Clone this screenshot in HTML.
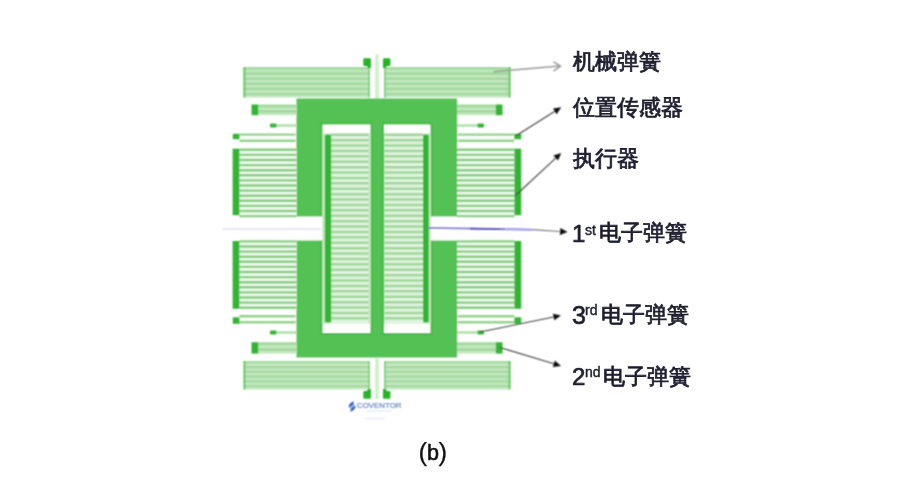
<!DOCTYPE html>
<html><head><meta charset="utf-8"><style>
html,body{margin:0;padding:0;background:#fff;}
body{width:898px;height:485px;overflow:hidden;position:relative;font-family:"Liberation Sans",sans-serif;}
svg{position:absolute;left:0;top:0;}
#tx{position:absolute;left:0;top:0;width:898px;height:485px;will-change:transform;}
#w{position:absolute;left:0;top:0;width:898px;height:485px;filter:url(#bl);}
.c,.d,.s{position:absolute;color:#1e1e30;white-space:nowrap;line-height:1;}
.c{font-size:22px;font-weight:normal;-webkit-text-stroke:0.8px #1e1e30;}
.d{font-size:24px;-webkit-text-stroke:0.7px #1e1e30;}
.p{position:absolute;line-height:1;font-size:26px;color:#111;-webkit-text-stroke:0.25px #111;}
.s{font-size:14px;-webkit-text-stroke:0.45px #1e1e30;}
</style></head><body>
<svg width="0" height="0" style="position:absolute"><filter id="bl" x="-1%" y="-1%" width="102%" height="102%"><feConvolveMatrix order="3" kernelMatrix="1 2 1 2 4 2 1 2 1" divisor="16" edgeMode="duplicate" preserveAlpha="false"/></filter></svg>
<div id="w">
<svg width="898" height="485" viewBox="0 0 898 485">
<rect x="243.2" y="67" width="126.3" height="30.5" fill="#c4e8c0" />
<line x1="243.2" y1="68.525" x2="369.5" y2="68.525" stroke="#a3d99f" stroke-width="2.5416666666666665" />
<line x1="243.2" y1="73.60833333333333" x2="369.5" y2="73.60833333333333" stroke="#a3d99f" stroke-width="2.5416666666666665" />
<line x1="243.2" y1="78.69166666666668" x2="369.5" y2="78.69166666666668" stroke="#a3d99f" stroke-width="2.5416666666666665" />
<line x1="243.2" y1="83.775" x2="369.5" y2="83.775" stroke="#a3d99f" stroke-width="2.5416666666666665" />
<line x1="243.2" y1="88.85833333333333" x2="369.5" y2="88.85833333333333" stroke="#a3d99f" stroke-width="2.5416666666666665" />
<line x1="243.2" y1="93.94166666666666" x2="369.5" y2="93.94166666666666" stroke="#a3d99f" stroke-width="2.5416666666666665" />
<rect x="384.5" y="67" width="126.0" height="30.5" fill="#c4e8c0" />
<line x1="384.5" y1="68.525" x2="510.5" y2="68.525" stroke="#a3d99f" stroke-width="2.5416666666666665" />
<line x1="384.5" y1="73.60833333333333" x2="510.5" y2="73.60833333333333" stroke="#a3d99f" stroke-width="2.5416666666666665" />
<line x1="384.5" y1="78.69166666666668" x2="510.5" y2="78.69166666666668" stroke="#a3d99f" stroke-width="2.5416666666666665" />
<line x1="384.5" y1="83.775" x2="510.5" y2="83.775" stroke="#a3d99f" stroke-width="2.5416666666666665" />
<line x1="384.5" y1="88.85833333333333" x2="510.5" y2="88.85833333333333" stroke="#a3d99f" stroke-width="2.5416666666666665" />
<line x1="384.5" y1="93.94166666666666" x2="510.5" y2="93.94166666666666" stroke="#a3d99f" stroke-width="2.5416666666666665" />
<rect x="243.5" y="361" width="126.0" height="28.5" fill="#c4e8c0" />
<line x1="243.5" y1="362.425" x2="369.5" y2="362.425" stroke="#a3d99f" stroke-width="2.375" />
<line x1="243.5" y1="367.175" x2="369.5" y2="367.175" stroke="#a3d99f" stroke-width="2.375" />
<line x1="243.5" y1="371.925" x2="369.5" y2="371.925" stroke="#a3d99f" stroke-width="2.375" />
<line x1="243.5" y1="376.675" x2="369.5" y2="376.675" stroke="#a3d99f" stroke-width="2.375" />
<line x1="243.5" y1="381.425" x2="369.5" y2="381.425" stroke="#a3d99f" stroke-width="2.375" />
<line x1="243.5" y1="386.175" x2="369.5" y2="386.175" stroke="#a3d99f" stroke-width="2.375" />
<rect x="384.5" y="361" width="126.0" height="28.5" fill="#c4e8c0" />
<line x1="384.5" y1="362.425" x2="510.5" y2="362.425" stroke="#a3d99f" stroke-width="2.375" />
<line x1="384.5" y1="367.175" x2="510.5" y2="367.175" stroke="#a3d99f" stroke-width="2.375" />
<line x1="384.5" y1="371.925" x2="510.5" y2="371.925" stroke="#a3d99f" stroke-width="2.375" />
<line x1="384.5" y1="376.675" x2="510.5" y2="376.675" stroke="#a3d99f" stroke-width="2.375" />
<line x1="384.5" y1="381.425" x2="510.5" y2="381.425" stroke="#a3d99f" stroke-width="2.375" />
<line x1="384.5" y1="386.175" x2="510.5" y2="386.175" stroke="#a3d99f" stroke-width="2.375" />
<line x1="244.5" y1="67" x2="244.5" y2="97.5" stroke="#6cc968" stroke-width="2" />
<line x1="369" y1="65" x2="369" y2="97.5" stroke="#6cc968" stroke-width="1.3" />
<line x1="385" y1="65" x2="385" y2="97.5" stroke="#6cc968" stroke-width="1.3" />
<line x1="509.5" y1="67" x2="509.5" y2="97.5" stroke="#6cc968" stroke-width="2" />
<line x1="244.5" y1="361" x2="244.5" y2="389.5" stroke="#6cc968" stroke-width="2" />
<line x1="369" y1="361" x2="369" y2="392" stroke="#6cc968" stroke-width="1.3" />
<line x1="385" y1="361" x2="385" y2="392" stroke="#6cc968" stroke-width="1.3" />
<line x1="509.5" y1="361" x2="509.5" y2="389.5" stroke="#6cc968" stroke-width="2" />
<line x1="377" y1="54.5" x2="377" y2="99" stroke="#cdf0c9" stroke-width="3.6" />
<line x1="377" y1="358" x2="377" y2="399" stroke="#cdf0c9" stroke-width="3.6" />
<path d="M363.3 59.5 Q363.3 58.3 364.5 58.3 L369.7 58.3 Q370.9 58.3 370.9 59.5 L370.9 68 L367.5 68 L367.3 66 L364.5 66 Q363.3 66 363.3 64.8 Z" fill="#25b425"/>
<path d="M390.4 59.5 Q390.4 58.3 389.2 58.3 L384.2 58.3 Q383 58.3 383 59.5 L383 68 L386.3 68 L386.5 66 L389.2 66 Q390.4 66 390.4 64.8 Z" fill="#25b425"/>
<path d="M363.3 397.5 Q363.3 398.7 364.5 398.7 L369.7 398.7 Q370.9 398.7 370.9 397.5 L370.9 389 L367.5 389 L367.3 391 L364.5 391 Q363.3 391 363.3 392.2 Z" fill="#25b425"/>
<path d="M390.4 397.5 Q390.4 398.7 389.2 398.7 L384.2 398.7 Q383 398.7 383 397.5 L383 389 L386.3 389 L386.5 391 L389.2 391 Q390.4 391 390.4 392.2 Z" fill="#25b425"/>
<rect x="296.5" y="98.5" width="160.5" height="259.0" fill="#52c152" />
<rect x="320.5" y="122.5" width="52.0" height="212.5" fill="#46ba46" />
<rect x="382" y="122.5" width="50.5" height="212.5" fill="#46ba46" />
<rect x="280" y="216.5" width="42.6" height="24.0" fill="#ffffff" />
<rect x="430.4" y="216.5" width="39.6" height="24.0" fill="#ffffff" />
<rect x="322.5" y="124.5" width="48.0" height="208.5" fill="#ffffff" />
<rect x="322.5" y="133.5" width="48.0" height="190.0" fill="#c6e8c3" />
<rect x="331.2" y="133.5" width="37.3" height="190.0" fill="#e2f3e0" />
<line x1="331.2" y1="134.75" x2="368.5" y2="134.75" stroke="#9dd799" stroke-width="2.5" />
<line x1="331.2" y1="140.15" x2="368.5" y2="140.15" stroke="#9dd799" stroke-width="2.5" />
<line x1="331.2" y1="145.55" x2="368.5" y2="145.55" stroke="#9dd799" stroke-width="2.5" />
<line x1="331.2" y1="150.95000000000002" x2="368.5" y2="150.95000000000002" stroke="#9dd799" stroke-width="2.5" />
<line x1="331.2" y1="156.35000000000002" x2="368.5" y2="156.35000000000002" stroke="#9dd799" stroke-width="2.5" />
<line x1="331.2" y1="161.75000000000003" x2="368.5" y2="161.75000000000003" stroke="#9dd799" stroke-width="2.5" />
<line x1="331.2" y1="167.15000000000003" x2="368.5" y2="167.15000000000003" stroke="#9dd799" stroke-width="2.5" />
<line x1="331.2" y1="172.55000000000004" x2="368.5" y2="172.55000000000004" stroke="#9dd799" stroke-width="2.5" />
<line x1="331.2" y1="177.95000000000005" x2="368.5" y2="177.95000000000005" stroke="#9dd799" stroke-width="2.5" />
<line x1="331.2" y1="183.35000000000005" x2="368.5" y2="183.35000000000005" stroke="#9dd799" stroke-width="2.5" />
<line x1="331.2" y1="188.75000000000006" x2="368.5" y2="188.75000000000006" stroke="#9dd799" stroke-width="2.5" />
<line x1="331.2" y1="194.15000000000006" x2="368.5" y2="194.15000000000006" stroke="#9dd799" stroke-width="2.5" />
<line x1="331.2" y1="199.55000000000007" x2="368.5" y2="199.55000000000007" stroke="#9dd799" stroke-width="2.5" />
<line x1="331.2" y1="204.95000000000007" x2="368.5" y2="204.95000000000007" stroke="#9dd799" stroke-width="2.5" />
<line x1="331.2" y1="210.35000000000008" x2="368.5" y2="210.35000000000008" stroke="#9dd799" stroke-width="2.5" />
<line x1="331.2" y1="215.75000000000009" x2="368.5" y2="215.75000000000009" stroke="#9dd799" stroke-width="2.5" />
<line x1="331.2" y1="221.1500000000001" x2="368.5" y2="221.1500000000001" stroke="#9dd799" stroke-width="2.5" />
<line x1="331.2" y1="226.5500000000001" x2="368.5" y2="226.5500000000001" stroke="#9dd799" stroke-width="2.5" />
<line x1="331.2" y1="231.9500000000001" x2="368.5" y2="231.9500000000001" stroke="#9dd799" stroke-width="2.5" />
<line x1="331.2" y1="237.3500000000001" x2="368.5" y2="237.3500000000001" stroke="#9dd799" stroke-width="2.5" />
<line x1="331.2" y1="242.7500000000001" x2="368.5" y2="242.7500000000001" stroke="#9dd799" stroke-width="2.5" />
<line x1="331.2" y1="248.15000000000012" x2="368.5" y2="248.15000000000012" stroke="#9dd799" stroke-width="2.5" />
<line x1="331.2" y1="253.55000000000013" x2="368.5" y2="253.55000000000013" stroke="#9dd799" stroke-width="2.5" />
<line x1="331.2" y1="258.9500000000001" x2="368.5" y2="258.9500000000001" stroke="#9dd799" stroke-width="2.5" />
<line x1="331.2" y1="264.3500000000001" x2="368.5" y2="264.3500000000001" stroke="#9dd799" stroke-width="2.5" />
<line x1="331.2" y1="269.75000000000006" x2="368.5" y2="269.75000000000006" stroke="#9dd799" stroke-width="2.5" />
<line x1="331.2" y1="275.15000000000003" x2="368.5" y2="275.15000000000003" stroke="#9dd799" stroke-width="2.5" />
<line x1="331.2" y1="280.55" x2="368.5" y2="280.55" stroke="#9dd799" stroke-width="2.5" />
<line x1="331.2" y1="285.95" x2="368.5" y2="285.95" stroke="#9dd799" stroke-width="2.5" />
<line x1="331.2" y1="291.34999999999997" x2="368.5" y2="291.34999999999997" stroke="#9dd799" stroke-width="2.5" />
<line x1="331.2" y1="296.74999999999994" x2="368.5" y2="296.74999999999994" stroke="#9dd799" stroke-width="2.5" />
<line x1="331.2" y1="302.1499999999999" x2="368.5" y2="302.1499999999999" stroke="#9dd799" stroke-width="2.5" />
<line x1="331.2" y1="307.5499999999999" x2="368.5" y2="307.5499999999999" stroke="#9dd799" stroke-width="2.5" />
<line x1="331.2" y1="312.9499999999999" x2="368.5" y2="312.9499999999999" stroke="#9dd799" stroke-width="2.5" />
<line x1="331.2" y1="318.34999999999985" x2="368.5" y2="318.34999999999985" stroke="#9dd799" stroke-width="2.5" />
<rect x="324.8" y="134.5" width="6.4" height="188.0" fill="#33b533" rx="1.5"/>
<rect x="384" y="124.5" width="46.5" height="208.5" fill="#ffffff" />
<rect x="384" y="133.5" width="46.5" height="190.0" fill="#c6e8c3" />
<rect x="384.5" y="133.5" width="38.5" height="190.0" fill="#e2f3e0" />
<line x1="384.5" y1="134.75" x2="423" y2="134.75" stroke="#9dd799" stroke-width="2.5" />
<line x1="384.5" y1="140.15" x2="423" y2="140.15" stroke="#9dd799" stroke-width="2.5" />
<line x1="384.5" y1="145.55" x2="423" y2="145.55" stroke="#9dd799" stroke-width="2.5" />
<line x1="384.5" y1="150.95000000000002" x2="423" y2="150.95000000000002" stroke="#9dd799" stroke-width="2.5" />
<line x1="384.5" y1="156.35000000000002" x2="423" y2="156.35000000000002" stroke="#9dd799" stroke-width="2.5" />
<line x1="384.5" y1="161.75000000000003" x2="423" y2="161.75000000000003" stroke="#9dd799" stroke-width="2.5" />
<line x1="384.5" y1="167.15000000000003" x2="423" y2="167.15000000000003" stroke="#9dd799" stroke-width="2.5" />
<line x1="384.5" y1="172.55000000000004" x2="423" y2="172.55000000000004" stroke="#9dd799" stroke-width="2.5" />
<line x1="384.5" y1="177.95000000000005" x2="423" y2="177.95000000000005" stroke="#9dd799" stroke-width="2.5" />
<line x1="384.5" y1="183.35000000000005" x2="423" y2="183.35000000000005" stroke="#9dd799" stroke-width="2.5" />
<line x1="384.5" y1="188.75000000000006" x2="423" y2="188.75000000000006" stroke="#9dd799" stroke-width="2.5" />
<line x1="384.5" y1="194.15000000000006" x2="423" y2="194.15000000000006" stroke="#9dd799" stroke-width="2.5" />
<line x1="384.5" y1="199.55000000000007" x2="423" y2="199.55000000000007" stroke="#9dd799" stroke-width="2.5" />
<line x1="384.5" y1="204.95000000000007" x2="423" y2="204.95000000000007" stroke="#9dd799" stroke-width="2.5" />
<line x1="384.5" y1="210.35000000000008" x2="423" y2="210.35000000000008" stroke="#9dd799" stroke-width="2.5" />
<line x1="384.5" y1="215.75000000000009" x2="423" y2="215.75000000000009" stroke="#9dd799" stroke-width="2.5" />
<line x1="384.5" y1="221.1500000000001" x2="423" y2="221.1500000000001" stroke="#9dd799" stroke-width="2.5" />
<line x1="384.5" y1="226.5500000000001" x2="423" y2="226.5500000000001" stroke="#9dd799" stroke-width="2.5" />
<line x1="384.5" y1="231.9500000000001" x2="423" y2="231.9500000000001" stroke="#9dd799" stroke-width="2.5" />
<line x1="384.5" y1="237.3500000000001" x2="423" y2="237.3500000000001" stroke="#9dd799" stroke-width="2.5" />
<line x1="384.5" y1="242.7500000000001" x2="423" y2="242.7500000000001" stroke="#9dd799" stroke-width="2.5" />
<line x1="384.5" y1="248.15000000000012" x2="423" y2="248.15000000000012" stroke="#9dd799" stroke-width="2.5" />
<line x1="384.5" y1="253.55000000000013" x2="423" y2="253.55000000000013" stroke="#9dd799" stroke-width="2.5" />
<line x1="384.5" y1="258.9500000000001" x2="423" y2="258.9500000000001" stroke="#9dd799" stroke-width="2.5" />
<line x1="384.5" y1="264.3500000000001" x2="423" y2="264.3500000000001" stroke="#9dd799" stroke-width="2.5" />
<line x1="384.5" y1="269.75000000000006" x2="423" y2="269.75000000000006" stroke="#9dd799" stroke-width="2.5" />
<line x1="384.5" y1="275.15000000000003" x2="423" y2="275.15000000000003" stroke="#9dd799" stroke-width="2.5" />
<line x1="384.5" y1="280.55" x2="423" y2="280.55" stroke="#9dd799" stroke-width="2.5" />
<line x1="384.5" y1="285.95" x2="423" y2="285.95" stroke="#9dd799" stroke-width="2.5" />
<line x1="384.5" y1="291.34999999999997" x2="423" y2="291.34999999999997" stroke="#9dd799" stroke-width="2.5" />
<line x1="384.5" y1="296.74999999999994" x2="423" y2="296.74999999999994" stroke="#9dd799" stroke-width="2.5" />
<line x1="384.5" y1="302.1499999999999" x2="423" y2="302.1499999999999" stroke="#9dd799" stroke-width="2.5" />
<line x1="384.5" y1="307.5499999999999" x2="423" y2="307.5499999999999" stroke="#9dd799" stroke-width="2.5" />
<line x1="384.5" y1="312.9499999999999" x2="423" y2="312.9499999999999" stroke="#9dd799" stroke-width="2.5" />
<line x1="384.5" y1="318.34999999999985" x2="423" y2="318.34999999999985" stroke="#9dd799" stroke-width="2.5" />
<rect x="423" y="134.5" width="5.8" height="188.0" fill="#33b533" rx="1.5"/>
<rect x="239.4" y="148.7" width="57.1" height="67.3" fill="#f0f9ef" />
<line x1="239.4" y1="149.8" x2="296.5" y2="149.8" stroke="#84cd7f" stroke-width="2.4" />
<line x1="239.4" y1="154.9" x2="296.5" y2="154.9" stroke="#84cd7f" stroke-width="2.4" />
<line x1="239.4" y1="160.0" x2="296.5" y2="160.0" stroke="#84cd7f" stroke-width="2.4" />
<line x1="239.4" y1="165.10000000000002" x2="296.5" y2="165.10000000000002" stroke="#84cd7f" stroke-width="2.4" />
<line x1="239.4" y1="170.20000000000002" x2="296.5" y2="170.20000000000002" stroke="#84cd7f" stroke-width="2.4" />
<line x1="239.4" y1="175.3" x2="296.5" y2="175.3" stroke="#84cd7f" stroke-width="2.4" />
<line x1="239.4" y1="180.4" x2="296.5" y2="180.4" stroke="#84cd7f" stroke-width="2.4" />
<line x1="239.4" y1="185.5" x2="296.5" y2="185.5" stroke="#84cd7f" stroke-width="2.4" />
<line x1="239.4" y1="190.60000000000002" x2="296.5" y2="190.60000000000002" stroke="#84cd7f" stroke-width="2.4" />
<line x1="239.4" y1="195.70000000000002" x2="296.5" y2="195.70000000000002" stroke="#84cd7f" stroke-width="2.4" />
<line x1="239.4" y1="200.8" x2="296.5" y2="200.8" stroke="#84cd7f" stroke-width="2.4" />
<line x1="239.4" y1="205.9" x2="296.5" y2="205.9" stroke="#84cd7f" stroke-width="2.4" />
<line x1="239.4" y1="211.0" x2="296.5" y2="211.0" stroke="#84cd7f" stroke-width="2.4" />
<line x1="239.4" y1="216.10000000000002" x2="296.5" y2="216.10000000000002" stroke="#84cd7f" stroke-width="2.4" />
<rect x="232.6" y="148.7" width="6.8" height="66.5" fill="#33b533" />
<rect x="239.4" y="241.0" width="57.1" height="68.6" fill="#f0f9ef" />
<line x1="239.4" y1="241.4" x2="296.5" y2="241.4" stroke="#84cd7f" stroke-width="2.4" />
<line x1="239.4" y1="246.5" x2="296.5" y2="246.5" stroke="#84cd7f" stroke-width="2.4" />
<line x1="239.4" y1="251.6" x2="296.5" y2="251.6" stroke="#84cd7f" stroke-width="2.4" />
<line x1="239.4" y1="256.70000000000005" x2="296.5" y2="256.70000000000005" stroke="#84cd7f" stroke-width="2.4" />
<line x1="239.4" y1="261.8" x2="296.5" y2="261.8" stroke="#84cd7f" stroke-width="2.4" />
<line x1="239.4" y1="266.90000000000003" x2="296.5" y2="266.90000000000003" stroke="#84cd7f" stroke-width="2.4" />
<line x1="239.4" y1="272.00000000000006" x2="296.5" y2="272.00000000000006" stroke="#84cd7f" stroke-width="2.4" />
<line x1="239.4" y1="277.1" x2="296.5" y2="277.1" stroke="#84cd7f" stroke-width="2.4" />
<line x1="239.4" y1="282.20000000000005" x2="296.5" y2="282.20000000000005" stroke="#84cd7f" stroke-width="2.4" />
<line x1="239.4" y1="287.3" x2="296.5" y2="287.3" stroke="#84cd7f" stroke-width="2.4" />
<line x1="239.4" y1="292.40000000000003" x2="296.5" y2="292.40000000000003" stroke="#84cd7f" stroke-width="2.4" />
<line x1="239.4" y1="297.5" x2="296.5" y2="297.5" stroke="#84cd7f" stroke-width="2.4" />
<line x1="239.4" y1="302.6" x2="296.5" y2="302.6" stroke="#84cd7f" stroke-width="2.4" />
<line x1="239.4" y1="307.70000000000005" x2="296.5" y2="307.70000000000005" stroke="#84cd7f" stroke-width="2.4" />
<rect x="232.6" y="241.0" width="6.8" height="67.8" fill="#33b533" />
<rect x="457" y="148.7" width="57.4" height="67.3" fill="#f0f9ef" />
<line x1="457" y1="149.8" x2="514.4" y2="149.8" stroke="#84cd7f" stroke-width="2.4" />
<line x1="457" y1="154.9" x2="514.4" y2="154.9" stroke="#84cd7f" stroke-width="2.4" />
<line x1="457" y1="160.0" x2="514.4" y2="160.0" stroke="#84cd7f" stroke-width="2.4" />
<line x1="457" y1="165.10000000000002" x2="514.4" y2="165.10000000000002" stroke="#84cd7f" stroke-width="2.4" />
<line x1="457" y1="170.20000000000002" x2="514.4" y2="170.20000000000002" stroke="#84cd7f" stroke-width="2.4" />
<line x1="457" y1="175.3" x2="514.4" y2="175.3" stroke="#84cd7f" stroke-width="2.4" />
<line x1="457" y1="180.4" x2="514.4" y2="180.4" stroke="#84cd7f" stroke-width="2.4" />
<line x1="457" y1="185.5" x2="514.4" y2="185.5" stroke="#84cd7f" stroke-width="2.4" />
<line x1="457" y1="190.60000000000002" x2="514.4" y2="190.60000000000002" stroke="#84cd7f" stroke-width="2.4" />
<line x1="457" y1="195.70000000000002" x2="514.4" y2="195.70000000000002" stroke="#84cd7f" stroke-width="2.4" />
<line x1="457" y1="200.8" x2="514.4" y2="200.8" stroke="#84cd7f" stroke-width="2.4" />
<line x1="457" y1="205.9" x2="514.4" y2="205.9" stroke="#84cd7f" stroke-width="2.4" />
<line x1="457" y1="211.0" x2="514.4" y2="211.0" stroke="#84cd7f" stroke-width="2.4" />
<line x1="457" y1="216.10000000000002" x2="514.4" y2="216.10000000000002" stroke="#84cd7f" stroke-width="2.4" />
<rect x="514.4" y="148.7" width="6.8" height="66.5" fill="#33b533" />
<rect x="457" y="241.0" width="57.4" height="68.6" fill="#f0f9ef" />
<line x1="457" y1="241.4" x2="514.4" y2="241.4" stroke="#84cd7f" stroke-width="2.4" />
<line x1="457" y1="246.5" x2="514.4" y2="246.5" stroke="#84cd7f" stroke-width="2.4" />
<line x1="457" y1="251.6" x2="514.4" y2="251.6" stroke="#84cd7f" stroke-width="2.4" />
<line x1="457" y1="256.70000000000005" x2="514.4" y2="256.70000000000005" stroke="#84cd7f" stroke-width="2.4" />
<line x1="457" y1="261.8" x2="514.4" y2="261.8" stroke="#84cd7f" stroke-width="2.4" />
<line x1="457" y1="266.90000000000003" x2="514.4" y2="266.90000000000003" stroke="#84cd7f" stroke-width="2.4" />
<line x1="457" y1="272.00000000000006" x2="514.4" y2="272.00000000000006" stroke="#84cd7f" stroke-width="2.4" />
<line x1="457" y1="277.1" x2="514.4" y2="277.1" stroke="#84cd7f" stroke-width="2.4" />
<line x1="457" y1="282.20000000000005" x2="514.4" y2="282.20000000000005" stroke="#84cd7f" stroke-width="2.4" />
<line x1="457" y1="287.3" x2="514.4" y2="287.3" stroke="#84cd7f" stroke-width="2.4" />
<line x1="457" y1="292.40000000000003" x2="514.4" y2="292.40000000000003" stroke="#84cd7f" stroke-width="2.4" />
<line x1="457" y1="297.5" x2="514.4" y2="297.5" stroke="#84cd7f" stroke-width="2.4" />
<line x1="457" y1="302.6" x2="514.4" y2="302.6" stroke="#84cd7f" stroke-width="2.4" />
<line x1="457" y1="307.70000000000005" x2="514.4" y2="307.70000000000005" stroke="#84cd7f" stroke-width="2.4" />
<rect x="514.4" y="241.0" width="6.8" height="67.8" fill="#33b533" />
<line x1="239.4" y1="134.6" x2="295.5" y2="134.6" stroke="#93d38e" stroke-width="2.4" />
<line x1="239.4" y1="140.7" x2="295.5" y2="140.7" stroke="#93d38e" stroke-width="2.4" />
<rect x="232.8" y="133.8" width="6.6" height="5.4" fill="#33b533" />
<line x1="457.5" y1="134.6" x2="514.4" y2="134.6" stroke="#93d38e" stroke-width="2.4" />
<line x1="457.5" y1="140.7" x2="514.4" y2="140.7" stroke="#93d38e" stroke-width="2.4" />
<rect x="514.4" y="133.8" width="6.8" height="5.4" fill="#33b533" />
<line x1="239.4" y1="316.3" x2="295.5" y2="316.3" stroke="#93d38e" stroke-width="2.4" />
<line x1="239.4" y1="322.3" x2="295.5" y2="322.3" stroke="#93d38e" stroke-width="2.4" />
<rect x="232.8" y="317.3" width="6.6" height="6.5" fill="#33b533" />
<line x1="457.5" y1="316.3" x2="514.4" y2="316.3" stroke="#93d38e" stroke-width="2.4" />
<line x1="457.5" y1="322.3" x2="514.4" y2="322.3" stroke="#93d38e" stroke-width="2.4" />
<rect x="514.4" y="317.3" width="6.8" height="6.5" fill="#33b533" />
<rect x="276" y="124.19999999999999" width="20.5" height="2.6" fill="#b3e1af" />
<rect x="270" y="123.6" width="6.5" height="3.8" fill="#33b533" rx="1"/>
<rect x="457" y="124.19999999999999" width="21" height="2.6" fill="#b3e1af" />
<rect x="477.5" y="123.6" width="6.5" height="3.8" fill="#33b533" rx="1"/>
<rect x="276" y="331.20000000000005" width="20.5" height="2.6" fill="#b3e1af" />
<rect x="270" y="330.6" width="6.5" height="3.8" fill="#33b533" rx="1"/>
<rect x="457" y="331.20000000000005" width="21" height="2.6" fill="#b3e1af" />
<rect x="477.5" y="330.6" width="6.5" height="3.8" fill="#33b533" rx="1"/>
<rect x="258" y="104.5" width="38.5" height="10.7" fill="#c4e8c0" />
<line x1="258" y1="106.105" x2="296.5" y2="106.105" stroke="#a3d99f" stroke-width="2.6750000000000007" />
<line x1="258" y1="111.455" x2="296.5" y2="111.455" stroke="#a3d99f" stroke-width="2.6750000000000007" />
<rect x="251.5" y="104.5" width="6.7" height="10.7" fill="#33b533" />
<rect x="457" y="104.5" width="39" height="10.7" fill="#c4e8c0" />
<line x1="457" y1="106.105" x2="496" y2="106.105" stroke="#a3d99f" stroke-width="2.6750000000000007" />
<line x1="457" y1="111.455" x2="496" y2="111.455" stroke="#a3d99f" stroke-width="2.6750000000000007" />
<rect x="495.8" y="104.5" width="6.7" height="10.7" fill="#33b533" />
<rect x="258" y="342.2" width="38.5" height="11.4" fill="#c4e8c0" />
<line x1="258" y1="343.90999999999997" x2="296.5" y2="343.90999999999997" stroke="#a3d99f" stroke-width="2.8500000000000085" />
<line x1="258" y1="349.60999999999996" x2="296.5" y2="349.60999999999996" stroke="#a3d99f" stroke-width="2.8500000000000085" />
<rect x="251.5" y="342.2" width="6.7" height="11.4" fill="#33b533" />
<rect x="457" y="342.2" width="39" height="11.4" fill="#c4e8c0" />
<line x1="457" y1="343.90999999999997" x2="496" y2="343.90999999999997" stroke="#a3d99f" stroke-width="2.8500000000000085" />
<line x1="457" y1="349.60999999999996" x2="496" y2="349.60999999999996" stroke="#a3d99f" stroke-width="2.8500000000000085" />
<rect x="495.8" y="342.2" width="6.7" height="11.4" fill="#33b533" />
<line x1="222" y1="228.8" x2="321" y2="228.8" stroke="#e4e4f7" stroke-width="1.8" />
<path d="M427.5 227.8 L532 229.6" stroke="#7a78d0" stroke-width="1.8" fill="none"/>
<path d="M470 228.6 L500 229.2" stroke="#5a58b8" stroke-width="1.6" fill="none"/>
<path d="M505 229.2 L532 229.8" stroke="#a8a8ec" stroke-width="1.8" fill="none"/>
<path d="M493.4 71.7 L560 66.1" stroke="#9a9a9a" stroke-width="1.5" fill="none"/>
<path d="M553.5 61.8 L560.5 66.1 L553.5 71.1" stroke="#9a9a9a" stroke-width="1.5" fill="none"/>
<path d="M516.5 135.5 L554.86 111.30" stroke="#404040" stroke-width="1.1" fill="none"/>
<path d="M561.2 107.3 L556.67 114.18 L553.04 108.43 Z" fill="#111"/>
<path d="M515.5 195.5 L555.71 158.11" stroke="#404040" stroke-width="1.1" fill="none"/>
<path d="M561.2 153 L558.02 160.60 L553.39 155.62 Z" fill="#111"/>
<path d="M532 229.6 L560.12 231.50" stroke="#777" stroke-width="1.1" fill="none"/>
<path d="M567.6 232 L559.89 234.89 L560.35 228.10 Z" fill="#111"/>
<path d="M480 332 L553.65 317.00" stroke="#404040" stroke-width="1.1" fill="none"/>
<path d="M561 315.5 L554.33 320.33 L552.97 313.67 Z" fill="#111"/>
<path d="M500 347.5 L553.82 363.82" stroke="#404040" stroke-width="1.1" fill="none"/>
<path d="M561 366 L552.84 367.08 L554.81 360.57 Z" fill="#111"/>
<path d="M353.5 401.2 C350.5 402.5 348.3 404.8 348.8 407 C349.2 408.2 350.5 408.3 350.8 409 C350.9 410 350.2 411 350.4 411.9 C353.3 410.8 355.8 408.6 355.5 406.3 C355.3 405.2 354 404.9 353.8 404.2 C353.6 403.3 353.9 402.2 353.5 401.2 Z" fill="#3b6cc4"/>
<path d="M349.5 408.2 L354.8 404.8" stroke="#ffffff" stroke-width="0.9"/>
<text x="357" y="408" font-family="&quot;Liberation Sans&quot;, sans-serif" font-size="7.8" fill="#5a7cb6" stroke="#5a7cb6" stroke-width="0.15" textLength="44.5" lengthAdjust="spacingAndGlyphs">COVENTOR</text>
<rect x="366.5" y="410.3" width="25.5" height="1.3" fill="#e0e8f4"/>
<rect x="365" y="417.8" width="19.5" height="1.6" fill="#ebe9f9"/>
</svg>
</div>
<div id="tx">
<div class="c" style="left:573.3px;top:50.5px">机械弹簧</div>
<div class="c" style="left:573.3px;top:97px">位置传感器</div>
<div class="c" style="left:573.3px;top:147.5px">执行器</div>
<div class="d" style="left:572px;top:221.5px">1</div><div class="s" style="left:585px;top:222.5px">st</div><div class="c" style="left:598.8px;top:221.5px">电子弹簧</div>
<div class="d" style="left:572px;top:302.5px;font-size:25px">3</div><div class="s" style="left:585px;top:303px">rd</div><div class="c" style="left:601.3px;top:303.5px">电子弹簧</div>
<div class="d" style="left:572px;top:365px">2</div><div class="s" style="left:585px;top:364.5px">nd</div><div class="c" style="left:603.3px;top:365.5px">电子弹簧</div>
<div class="p" style="left:418.5px;top:439px">(</div><div class="p" style="left:427px;top:443px;font-size:21.5px;-webkit-text-stroke:0.6px #111;">b</div><div class="p" style="left:438.5px;top:439px">)</div>
</div>
</body></html>
